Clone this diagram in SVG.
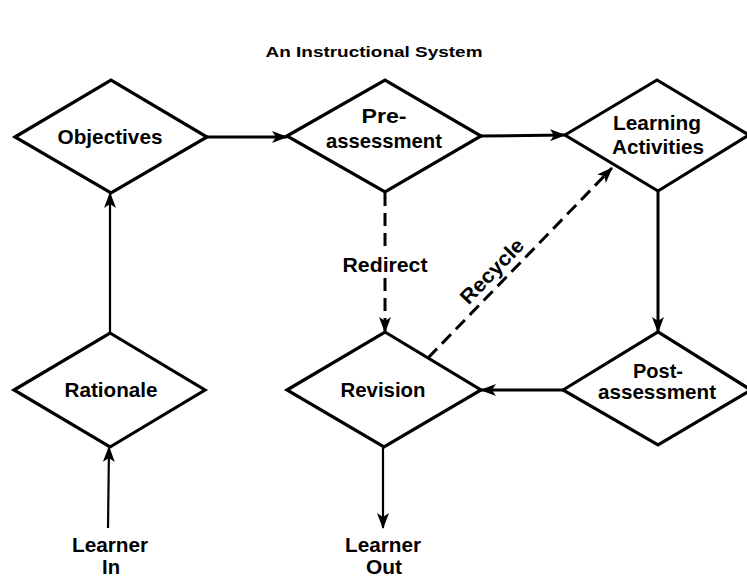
<svg xmlns="http://www.w3.org/2000/svg" width="747" height="578" viewBox="0 0 747 578">
<defs>
<style>
.node polygon{fill:#fff;stroke:#000;stroke-width:3.2;stroke-linejoin:miter}
text{font-family:"Liberation Sans",Arial,Helvetica,sans-serif;font-weight:bold;font-size:20.5px;fill:#000;text-anchor:middle}
.title{font-size:15px}
.conn line,.conn path{stroke:#000;stroke-width:3;fill:none}
.conn .dash{stroke-dasharray:13 7}
.conn .thin{stroke-width:2.2}
</style>
<marker id="ah" markerUnits="userSpaceOnUse" markerWidth="16" markerHeight="12" refX="15" refY="6" orient="auto">
<path d="M0,0 L16,6 L0,12 L4,6 Z" fill="#000"/>
</marker>
</defs>
<rect width="747" height="578" fill="#fff"/>
<text class="title" x="374" y="57" textLength="217" lengthAdjust="spacingAndGlyphs">An Instructional System</text>

<g class="conn" id="connectors">
<line x1="207" y1="137" x2="287" y2="137" marker-end="url(#ah)"/>
<line x1="481" y1="136" x2="565" y2="135" marker-end="url(#ah)"/>
<line x1="658" y1="191" x2="658" y2="332" marker-end="url(#ah)"/>
<line x1="563" y1="390" x2="481" y2="390" marker-end="url(#ah)"/>
<line x1="110" y1="333" x2="110" y2="193" class="thin" marker-end="url(#ah)"/>
<line x1="108" y1="528" x2="109" y2="447" class="thin" marker-end="url(#ah)"/>
<line x1="383" y1="447" x2="383" y2="528" class="thin" marker-end="url(#ah)"/>
<line class="dash" x1="385" y1="193" x2="385" y2="252"/>
<line class="dash" x1="385" y1="278" x2="385" y2="332" marker-end="url(#ah)"/>
<line class="dash" x1="428" y1="358" x2="612" y2="168" marker-end="url(#ah)"/>
<text x="385" y="272" textLength="85" lengthAdjust="spacingAndGlyphs">Redirect</text>
<text x="0" y="0" textLength="82" lengthAdjust="spacingAndGlyphs" transform="translate(497,276) rotate(-46)">Recycle</text>
</g>

<g class="node" id="objectives">
<polygon points="15,137 111,80 207,137 111,193"/>
<text x="110" y="144" textLength="105" lengthAdjust="spacingAndGlyphs">Objectives</text>
</g>
<g class="node" id="preassessment">
<polygon points="287,136 385,80 481,136 385,192"/>
<text x="384" y="123" textLength="45" lengthAdjust="spacingAndGlyphs">Pre-</text>
<text x="384" y="148" textLength="116" lengthAdjust="spacingAndGlyphs">assessment</text>
</g>
<g class="node" id="learning">
<polygon points="565,135 657,80 749,135 658,191"/>
<text x="657" y="130" textLength="88" lengthAdjust="spacingAndGlyphs">Learning</text>
<text x="658" y="154" textLength="92" lengthAdjust="spacingAndGlyphs">Activities</text>
</g>
<g class="node" id="rationale">
<polygon points="14,390 110,333 205,390 110,447"/>
<text x="111" y="397" textLength="93" lengthAdjust="spacingAndGlyphs">Rationale</text>
</g>
<g class="node" id="revision">
<polygon points="287,390 385,332 481,390 384,447"/>
<text x="383" y="397" textLength="85" lengthAdjust="spacingAndGlyphs">Revision</text>
</g>
<g class="node" id="postassessment">
<polygon points="563,390 658,332 751,390 658,445"/>
<text x="658" y="378" textLength="50" lengthAdjust="spacingAndGlyphs">Post-</text>
<text x="657" y="399" textLength="118" lengthAdjust="spacingAndGlyphs">assessment</text>
</g>
<g class="node" id="learner-in">
<text x="110" y="552" textLength="76" lengthAdjust="spacingAndGlyphs">Learner</text>
<text x="111" y="574" textLength="18" lengthAdjust="spacingAndGlyphs">In</text>
</g>
<g class="node" id="learner-out">
<text x="383" y="552" textLength="76" lengthAdjust="spacingAndGlyphs">Learner</text>
<text x="384" y="574" textLength="36" lengthAdjust="spacingAndGlyphs">Out</text>
</g>
</svg>
